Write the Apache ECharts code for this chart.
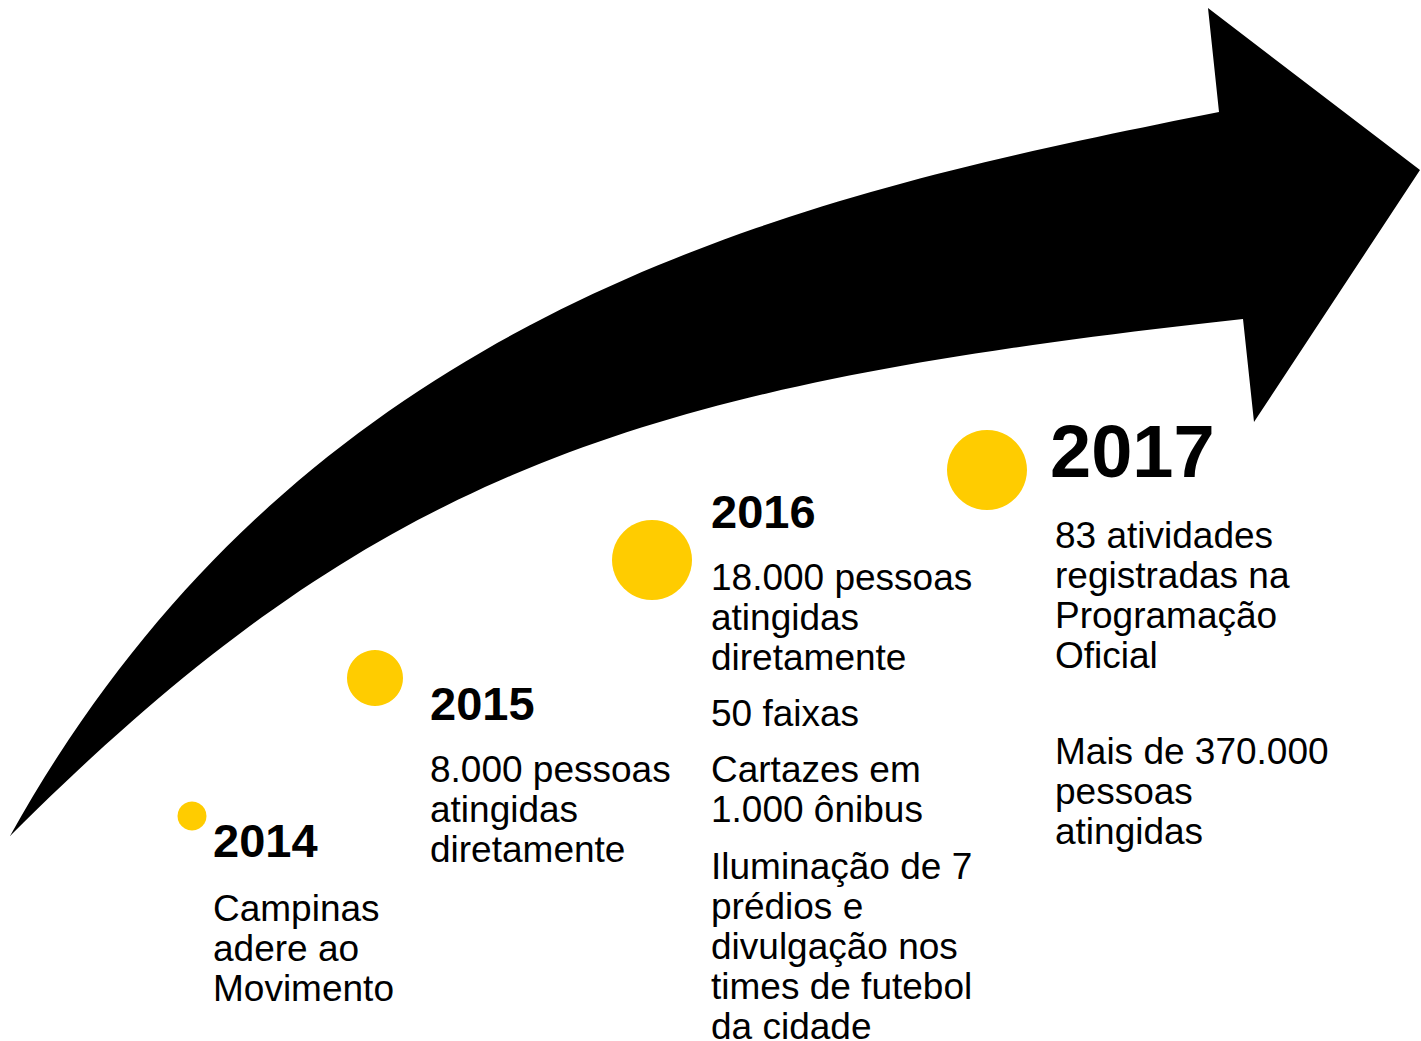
<!DOCTYPE html>
<html>
<head>
<meta charset="utf-8">
<script src="https://cdn.jsdelivr.net/npm/echarts@6/dist/echarts.min.js"></script>
<style>
  html, body { margin: 0; padding: 0; background: #fff; }
  #chart { width: 1421px; height: 1041px; }
</style>
</head>
<body>
<div id="chart"></div>
<script>
// milestones
const years = ['2014', '2015', '2016', '2017'];
const circleX = [192, 375, 652, 987];
const circleY = [816, 678, 560, 470];
const circleSize = [29, 56, 80, 80];
const notes = [
  ['Campinas\nadere ao\nMovimento'],
  ['8.000 pessoas\natingidas\ndiretamente'],
  ['18.000 pessoas\natingidas\ndiretamente', '50 faixas', 'Cartazes em\n1.000 ônibus',
   'Iluminação de 7\nprédios e\ndivulgação nos\ntimes de futebol\nda cidade'],
  ['83 atividades\nregistradas na\nProgramação\nOficial', 'Mais de 370.000\npessoas\natingidas']
];

// arrow outline (chart units, y grows downward): two cubic edges + the head
const arrowUpper = [[10, 836], [310, 296], [819, 192], [1219, 112]];
const arrowHead = [[1208, 8], [1420, 170], [1254, 422]];
const arrowLower = [[1243, 319], [643, 385], [380, 466], [10, 836]];

// text anchors: left x, centre y of the first line
const yearPos = [[213, 840], [430, 703], [711, 511], [1050, 451]];
const yearFont = [47, 47, 47, 74];
const notePos = [
  [[213, 908]],
  [[430, 769]],
  [[711, 577], [711, 713], [711, 769], [711, 866]],
  [[1055, 535], [1055, 751]]
];

const FONT = '"Liberation Sans", Arial, sans-serif';
const LINE_H = 40;

// sample a cubic bezier so the custom polygon can follow it
function cubic(p, n) {
  const out = [];
  for (let s = 0; s <= n; s++) {
    const t = s / n, u = 1 - t;
    const a = u * u * u, b = 3 * u * u * t, c = 3 * u * t * t, d = t * t * t;
    out.push([
      a * p[0][0] + b * p[1][0] + c * p[2][0] + d * p[3][0],
      a * p[0][1] + b * p[1][1] + c * p[2][1] + d * p[3][1]
    ]);
  }
  return out;
}

const noteRows = [];
notes.forEach((list, i) => list.forEach((txt, j) => {
  noteRows.push([notePos[i][j][0], notePos[i][j][1], i, j]);
}));

const chart = echarts.init(document.getElementById('chart'), null, { renderer: 'svg' });

const option = {
  animation: false,
  backgroundColor: '#fff',
  grid: { left: 0, right: 0, top: 0, bottom: 0 },
  xAxis: { type: 'value', min: 0, max: 1421, show: false },
  yAxis: { type: 'value', min: 0, max: 1041, inverse: true, show: false },
  series: [
    {
      // big black arrow
      type: 'custom',
      silent: true,
      clip: false,
      data: [0],
      renderItem: (params, api) => {
        const up = cubic(arrowUpper.map(p => api.coord(p)), 80);
        const head = arrowHead.map(p => api.coord(p));
        const low = cubic(arrowLower.map(p => api.coord(p)), 80);
        return {
          type: 'polygon',
          shape: { points: up.concat(head, low) },
          style: { fill: '#000' }
        };
      }
    },
    {
      type: 'scatter',
      silent: true,
      symbol: 'circle',
      symbolSize: v => v[2],
      itemStyle: { color: '#FFCC00', opacity: 1 },
      data: circleX.map((x, i) => [x, circleY[i], circleSize[i]])
    },
    {
      // year titles
      type: 'custom',
      silent: true,
      clip: false,
      data: years.map((y, i) => [yearPos[i][0], yearPos[i][1], i]),
      renderItem: (params, api) => {
        const i = api.value(2);
        const pt = api.coord([api.value(0), api.value(1)]);
        return {
          type: 'text',
          x: pt[0],
          y: pt[1],
          style: {
            text: years[i],
            fill: '#000',
            fontFamily: FONT,
            fontWeight: 'bold',
            fontSize: yearFont[i],
            align: 'left',
            verticalAlign: 'middle'
          }
        };
      }
    },
    {
      // descriptions
      type: 'custom',
      silent: true,
      clip: false,
      data: noteRows,
      renderItem: (params, api) => {
        const pt = api.coord([api.value(0), api.value(1)]);
        return {
          type: 'text',
          x: pt[0],
          y: pt[1] - LINE_H / 2,
          style: {
            text: notes[api.value(2)][api.value(3)],
            fill: '#000',
            fontFamily: FONT,
            fontSize: 37,
            lineHeight: LINE_H,
            align: 'left',
            verticalAlign: 'top'
          }
        };
      }
    }
  ]
};

chart.setOption(option);
window.addEventListener('resize', () => chart.resize());
</script>
</body>
</html>
